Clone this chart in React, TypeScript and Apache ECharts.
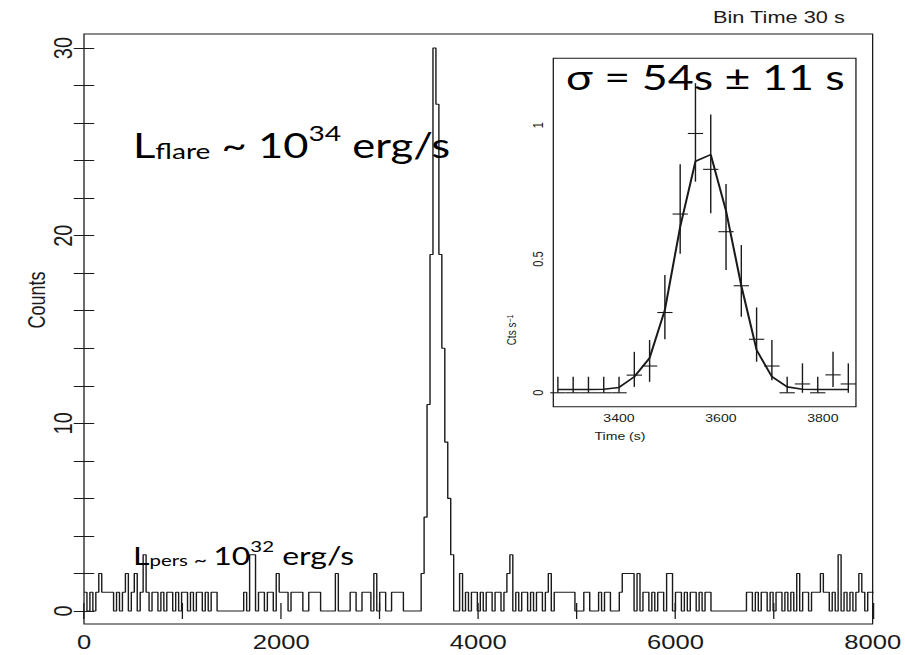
import React, { useEffect, useRef } from "react";
import * as echarts from "echarts";

// horizontal stretch of the reference figure
const S = 1.28;
const REF_W = 905;
const REF_H = 655;
const IW = REF_W / S;
const px = (x: number) => x / S;

const binWidth = 30;
const counts = [
  1,0,1,0,1,2,1,1,1,1, 0,1,0,1,2,0,1,2,0,1,
  3,1,0,1,1,0,1,0,1,1, 0,1,0,1,1,0,1,0,1,1,
  0,1,0,1,1,0,0,0,0,0, 0,0,0,0,1,0,3,3,0,1,
  1,0,1,1,0,2,1,1,1,0, 1,1,1,1,0,0,1,1,1,1,
  0,0,0,0,0,2,0,0,0,0, 1,1,0,0,1,1,1,0,2,0,
  1,1,0,0,1,1,1,1,0,0, 0,0,0,0,2,5,11,19,30,27,
  19,14,9,6,3,0,0,2,0,1, 0,1,1,0,1,0,1,1,0,1,
  1,0,1,2,3,0,1,0,1,1, 0,1,0,1,1,0,1,2,0,1,
  1,1,1,1,1,1,0,0,0,1, 1,0,0,0,1,0,1,1,0,0,
  0,1,2,2,2,2,0,2,0,1, 1,0,1,0,1,1,0,2,2,0,
  1,1,0,1,0,1,1,0,1,0, 1,1,0,0,0,0,0,0,0,0,
  0,0,0,0,1,1,0,1,0,1, 1,0,1,0,1,1,0,1,0,1,
  0,2,0,1,1,0,1,1,1,2, 1,1,0,1,0,3,0,1,0,1,
  0,1,2,1,0,1,1,
];

const mainXTicks = [0, 1000, 2000, 3000, 4000, 5000, 6000, 7000, 8000];
const mainXLabels = [0, 2000, 4000, 6000, 8000];
const mainYTicks = [0, 2, 4, 6, 8, 10, 12, 14, 16, 18, 20, 22, 24, 26, 28, 30];
const mainYLabels = [0, 10, 20, 30];

const insetTime = [3280, 3310, 3340, 3370, 3400, 3430, 3460, 3490, 3520, 3550, 3580, 3610, 3640, 3670, 3700, 3730, 3760, 3790, 3820, 3850];
const insetRate = [0, 0, 0, 0, 0, 0.066, 0.1, 0.3, 0.668, 0.969, 0.835, 0.602, 0.4, 0.2, 0.1, 0, 0.033, 0, 0.067, 0.033];
const insetLow = [0, 0, 0, 0, 0, 0.022, 0.041, 0.2, 0.52, 0.789, 0.671, 0.459, 0.284, 0.116, 0.047, 0, 0, 0, 0.022, 0];
const insetHigh = [0.06, 0.06, 0.06, 0.06, 0.06, 0.153, 0.197, 0.44, 0.854, 1.157, 1.04, 0.78, 0.552, 0.319, 0.197, 0.06, 0.11, 0.06, 0.153, 0.11];
const insetFit = [0.012, 0.012, 0.012, 0.013, 0.02, 0.06, 0.13, 0.31, 0.62, 0.865, 0.89, 0.68, 0.4, 0.16, 0.06, 0.022, 0.013, 0.012, 0.012, 0.012];
const insetHalfBin = 15;

const insetXTicks = [3300, 3400, 3500, 3600, 3700, 3800];
const insetXLabels = [3400, 3600, 3800];
const insetYTicks = [0, 0.1, 0.2, 0.3, 0.4, 0.5, 0.6, 0.7, 0.8, 0.9, 1.0, 1.1, 1.2];
const insetYLabels = [0, 0.5, 1];

const INK = "#1a1a1a";
const TICK_FONT = "Liberation Sans";
const NOTE_FONT = "Lato";
const plain = (v: number) => String(v);

export default function App() {
  const ref = useRef<HTMLDivElement>(null);

  useEffect(() => {
    if (!ref.current) return;
    const chart = echarts.init(ref.current, undefined, { renderer: "svg" });

    const stepData: number[][] = counts.map((c, i) => [i * binWidth, c]);
    stepData.push([counts.length * binWidth, counts[counts.length - 1]]);

    const errData = insetTime.map((t, i) => [t, insetRate[i], insetLow[i], insetHigh[i]]);
    const fitData = insetTime.map((t, i) => [t, insetFit[i]]);

    const mainXCommon = {
      type: "value" as const,
      gridIndex: 0,
      min: 0,
      max: 8000,
      splitLine: { show: false },
      axisLine: { show: false },
      axisTick: { inside: true, length: 8, customValues: mainXTicks, lineStyle: { color: INK, width: 1 } },
    };
    const mainYCommon = {
      type: "value" as const,
      gridIndex: 0,
      min: -0.693,
      max: 30.746,
      splitLine: { show: false },
      axisLine: { show: false },
      axisTick: { inside: true, length: 8, customValues: mainYTicks, lineStyle: { color: INK, width: 1 } },
    };
    const insetXCommon = {
      type: "value" as const,
      gridIndex: 1,
      min: 3271,
      max: 3865,
      splitLine: { show: false },
      axisLine: { show: false },
      axisTick: { inside: true, length: 5, customValues: insetXTicks, lineStyle: { color: INK, width: 1 } },
    };
    const insetYCommon = {
      type: "value" as const,
      gridIndex: 1,
      min: -0.052,
      max: 1.25,
      splitLine: { show: false },
      axisLine: { show: false },
      axisTick: { inside: true, length: 5, customValues: insetYTicks, lineStyle: { color: INK, width: 1 } },
    };

    chart.setOption({
      animation: false,
      backgroundColor: "#ffffff",
      grid: [
        {
          left: px(84),
          right: IW - px(879),
          top: 34,
          bottom: REF_H - 624,
          show: true,
          borderColor: INK,
          borderWidth: 1,
          backgroundColor: "transparent",
        },
        {
          left: px(553.3),
          right: IW - px(856),
          top: 58.3,
          bottom: REF_H - 406.7,
          show: true,
          borderColor: INK,
          borderWidth: 1,
          backgroundColor: "#ffffff",
          z: 3,
        },
      ],
      xAxis: [
        {
          ...mainXCommon,
          position: "bottom",
          axisLabel: {
            customValues: mainXLabels,
            formatter: plain,
            color: INK,
            fontFamily: TICK_FONT,
            fontSize: 20,
            margin: 8,
          },
        },
        { ...mainXCommon, position: "top", axisLabel: { show: false } },
        {
          ...insetXCommon,
          position: "bottom",
          axisLabel: {
            customValues: insetXLabels,
            formatter: plain,
            color: INK,
            fontFamily: TICK_FONT,
            fontSize: 11,
            margin: 6,
          },
        },
        { ...insetXCommon, position: "top", axisLabel: { show: false } },
      ],
      yAxis: [
        {
          ...mainYCommon,
          position: "left",
          axisLabel: {
            customValues: mainYLabels,
            formatter: plain,
            rotate: 90,
            color: INK,
            fontFamily: TICK_FONT,
            fontSize: 20,
            lineHeight: 20,
            margin: 6,
          },
        },
        { ...mainYCommon, position: "right", axisLabel: { show: false } },
        {
          ...insetYCommon,
          position: "left",
          axisLabel: {
            customValues: insetYLabels,
            formatter: plain,
            rotate: 90,
            color: INK,
            fontFamily: TICK_FONT,
            fontSize: 11,
            lineHeight: 11,
            margin: 6,
          },
        },
        { ...insetYCommon, position: "right", axisLabel: { show: false } },
      ],
      series: [
        {
          type: "line",
          xAxisIndex: 0,
          yAxisIndex: 0,
          step: "end",
          data: stepData,
          symbol: "none",
          lineStyle: { color: INK, width: 1.1 },
          z: 2,
        },
        {
          type: "custom",
          xAxisIndex: 2,
          yAxisIndex: 2,
          data: errData,
          z: 10,
          renderItem: (params: any, api: any) => {
            const t = api.value(0);
            const v = api.value(1);
            const lo = api.value(2);
            const hi = api.value(3);
            const a = api.coord([t - insetHalfBin, v]);
            const b = api.coord([t + insetHalfBin, v]);
            const c = api.coord([t, lo]);
            const d = api.coord([t, hi]);
            return {
              type: "group",
              children: [
                { type: "line", shape: { x1: a[0], y1: a[1], x2: b[0], y2: b[1] }, style: { stroke: INK, lineWidth: 1.1 } },
                { type: "line", shape: { x1: c[0], y1: c[1], x2: d[0], y2: d[1] }, style: { stroke: INK, lineWidth: 1.1 } },
              ],
            };
          },
        },
        {
          type: "line",
          xAxisIndex: 2,
          yAxisIndex: 2,
          data: fitData,
          symbol: "none",
          lineStyle: { color: INK, width: 1.6 },
          z: 11,
        },
      ],
      graphic: [
        {
          type: "text",
          x: px(713),
          y: 8,
          style: { text: "Bin Time 30 s", fontFamily: TICK_FONT, fontSize: 17, fill: INK, textVerticalAlign: "top", verticalAlign: "top" },
        },
        {
          type: "text",
          x: px(37),
          y: 300,
          rotation: Math.PI / 2,
          style: {
            text: "Counts",
            fontFamily: TICK_FONT,
            fontSize: 18,
            fill: INK,
            textAlign: "center",
            align: "center",
            textVerticalAlign: "middle",
            verticalAlign: "middle",
          },
        },
        {
          type: "text",
          x: px(512),
          y: 330,
          rotation: Math.PI / 2,
          z: 20,
          style: {
            text: "{a|Cts s}{b|−1}",
            fill: INK,
            textAlign: "center",
            align: "center",
            textVerticalAlign: "middle",
            verticalAlign: "middle",
            rich: {
              a: { fontFamily: TICK_FONT, fontSize: 10, fill: INK, verticalAlign: "bottom" },
              b: { fontFamily: TICK_FONT, fontSize: 7, fill: INK, verticalAlign: "top", lineHeight: 8 },
            },
          },
        },
        {
          type: "text",
          x: px(620),
          y: 437,
          z: 20,
          style: {
            text: "Time (s)",
            fontFamily: TICK_FONT,
            fontSize: 11,
            fill: INK,
            textAlign: "center",
            align: "center",
            textVerticalAlign: "middle",
            verticalAlign: "middle",
          },
        },
        {
          type: "text",
          x: px(566),
          y: 77,
          z: 30,
          style: {
            text: "σ = 54s ± 11 s",
            fontFamily: NOTE_FONT,
            fontSize: 35,
            fill: "#000",
            textVerticalAlign: "middle",
            verticalAlign: "middle",
          },
        },
        {
          type: "text",
          x: px(133),
          y: 141,
          z: 30,
          style: {
            text: "{a|L}{b|flare}{a| ~ 10}{c|34}{a| erg/s}",
            fill: "#000",
            textVerticalAlign: "middle",
            verticalAlign: "middle",
            rich: {
              a: { fontFamily: NOTE_FONT, fontSize: 34, fill: "#000", verticalAlign: "bottom", lineHeight: 40 },
              b: { fontFamily: NOTE_FONT, fontSize: 22, fill: "#000", verticalAlign: "bottom", lineHeight: 16 },
              c: { fontFamily: NOTE_FONT, fontSize: 22, fill: "#000", verticalAlign: "top", lineHeight: 20 },
            },
          },
        },
        {
          type: "text",
          x: px(133),
          y: 553,
          z: 30,
          style: {
            text: "{a|L}{b|pers}{d| ~ }{a|10}{c|32}{a| erg/s}",
            fill: "#000",
            textVerticalAlign: "middle",
            verticalAlign: "middle",
            rich: {
              a: { fontFamily: NOTE_FONT, fontSize: 25, fill: "#000", verticalAlign: "bottom", lineHeight: 30 },
              b: { fontFamily: NOTE_FONT, fontSize: 16, fill: "#000", verticalAlign: "bottom", lineHeight: 12 },
              c: { fontFamily: NOTE_FONT, fontSize: 16, fill: "#000", verticalAlign: "top", lineHeight: 14 },
              d: { fontFamily: NOTE_FONT, fontSize: 18, fill: "#000", verticalAlign: "bottom", lineHeight: 28 },
            },
          },
        },
      ],
    });

    return () => chart.dispose();
  }, []);

  return (
    <div
      style={{
        position: "fixed",
        left: 0,
        top: 0,
        width: REF_W,
        height: REF_H,
        overflow: "hidden",
        background: "#fff",
      }}
    >
      <div
        style={{
          width: IW,
          height: REF_H,
          transform: `scaleX(${S})`,
          transformOrigin: "0 0",
        }}
      >
        <div ref={ref} style={{ width: IW, height: REF_H }} />
      </div>
    </div>
  );
}
